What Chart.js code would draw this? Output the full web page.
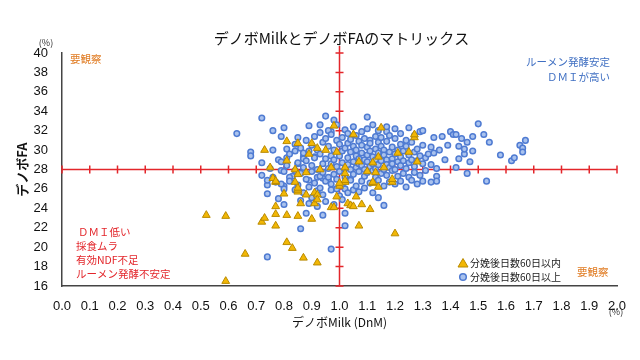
<!DOCTYPE html>
<html>
<head>
<meta charset="utf-8">
<script src="https://cdn.jsdelivr.net/npm/chart.js@4/dist/chart.umd.min.js"></script>
<style>
  html, body { margin: 0; padding: 0; background: #fff; }
  #wrap { width: 640px; height: 360px; }
</style>
</head>
<body>
<div id="wrap"><canvas id="myChart" width="640" height="360"></canvas></div>
<script>
// series names (legend)
var seriesNames = ["分娩後日数60日以内", "分娩後日数60日以上"];
var chartTitle = "デノボMilkとデノボFAのマトリックス";

// x axis: デノボMilk (%), y axis: デノボFA (%)
var milkTicks = [0, 2, 0.1];   // min, max, step
var faTicks = [16, 40, 2];
var centerMilk = 1.0;
var centerFA = 28;

// 分娩後日数60日以内 (triangles) [DnM, FA]
var earlyPoints = [
  [0.52,23.3],[0.59,23.2],[0.66,19.3],[0.59,16.5],[0.72,22.6],[0.73,23.0],[0.77,24.2],[0.77,23.4],
  [0.77,22.2],[0.81,23.3],[0.81,20.5],[0.83,19.9],[0.85,23.2],[0.86,24.5],[0.87,18.9],[0.90,22.9],
  [0.92,18.4],[0.80,25.5],[0.85,25.7],[0.85,25.9],[0.88,25.4],[0.91,25.6],[0.92,25.4],[0.91,24.5],
  [0.92,24.9],[0.77,26.7],[0.84,26.7],[0.97,24.1],[0.98,24.1],[0.99,25.2],[1.00,26.3],[1.02,26.7],
  [1.03,24.5],[1.04,24.3],[1.05,24.2],[1.06,25.2],[1.08,24.4],[1.11,23.9],[1.07,22.2],[1.12,26.6],
  [1.14,26.2],[1.19,26.7],[1.20,21.4],[0.73,30.0],[0.81,30.9],[0.85,30.7],[0.90,30.7],[0.98,32.5],
  [0.89,29.6],[0.92,30.2],[0.95,30.0],[0.99,29.8],[0.81,28.9],[0.75,28.2],[0.84,28.0],[0.85,27.5],
  [0.88,27.7],[0.93,28.0],[0.97,28.2],[1.02,28.2],[1.02,27.6],[0.76,27.1],[0.77,26.8],[0.85,26.1],
  [1.00,26.6],[1.05,31.6],[1.15,32.3],[1.27,31.3],[1.27,31.6],[1.21,29.7],[1.25,29.8],[1.28,28.8],
  [1.07,28.8],[1.14,29.3],[1.12,28.7],[1.10,27.8],[1.13,27.7],[1.16,28.2],[1.19,27.0],[1.12,26.7],
  [1.02,26.9]
];

// 分娩後日数60日以上 (circles) [DnM, FA]
var latePoints = [
  [0.63,31.7],[0.68,29.8],[0.68,29.4],[0.72,33.3],[0.76,32.0],[0.80,32.3],[0.85,31.3],[0.89,32.5],
  [0.93,32.6],[0.95,33.5],[0.98,33.1],[0.97,31.9],[0.74,19.0],[0.86,21.9],[0.94,23.3],[0.88,23.5],
  [0.97,19.8],[1.02,22.2],[1.02,23.5],[1.14,25.1],[1.16,24.3],[1.10,33.4],[1.17,31.9],[0.84,29.9],
  [0.87,29.3],[0.87,29.1],[0.91,29.3],[0.85,28.6],[0.81,29.2],[0.79,27.9],[0.83,27.3],[0.74,26.4],
  [0.80,26.3],[0.89,26.9],[0.92,27.2],[0.94,27.1],[0.96,26.9],[0.80,26.0],[0.82,27.2],[0.77,26.7],
  [0.72,27.4],[0.72,28.7],[0.74,26.9],[0.74,25.5],[0.75,28.1],[0.76,30.0],[0.76,27.2],[0.78,29.0],
  [0.78,25.0],[0.79,26.5],[0.79,28.8],[0.79,31.4],[0.80,27.8],[0.80,24.4],
  [0.81,28.4],[0.81,30.1],[0.82,26.8],[0.82,29.6],[0.84,27.9],[0.84,30.6],[0.84,25.9],[0.85,28.7],
  [0.85,26.4],[0.86,27.6],[0.86,30.2],[0.86,24.8],[0.87,28.2],[0.87,29.7],[0.87,25.6],[0.88,27.0],
  [0.88,31.0],[0.88,28.9],[0.89,26.2],[0.89,29.9],[0.89,24.5],[0.90,27.8],[0.90,30.5],[0.90,28.4],
  [0.90,25.1],[0.91,26.6],[0.91,29.2],[0.91,31.4],[0.92,28.0],[0.92,30.0],[0.92,25.8],[0.92,24.2],
  [0.93,27.3],[0.93,29.6],[0.93,31.8],[0.93,26.1],[0.94,28.6],[0.94,30.8],[0.94,25.4],[0.94,27.7],
  [0.95,26.8],[0.95,29.1],[0.95,31.2],[0.95,24.7],[0.96,28.1],[0.96,30.4],[0.96,27.2],[0.96,32.0],
  [0.97,25.9],[0.97,29.4],[0.97,31.6],[0.97,26.5],[0.97,28.6],[0.98,27.5],[0.98,30.0],[0.98,24.4],
  [0.98,29.0],[0.99,28.3],[0.99,31.0],[0.99,26.0],[0.99,32.6],[0.99,27.0],[1.00,29.4],[1.00,30.6],
  [1.00,25.3],[1.00,27.8],[1.01,28.7],[1.01,31.3],[1.01,26.4],[1.01,29.9],[1.01,24.9],[1.02,27.2],
  [1.02,30.2],[1.02,32.1],[1.02,28.1],[1.02,26.0],[1.03,29.2],[1.03,31.7],[1.03,25.6],[1.03,28.5],
  [1.03,30.7],[1.04,27.0],[1.04,29.8],[1.04,26.9],[1.04,31.1],[1.04,28.0],[1.05,28.8],[1.05,30.4],
  [1.05,25.9],[1.05,32.4],[1.05,27.5],[1.06,29.4],[1.06,31.5],[1.06,26.3],[1.06,28.2],[1.06,30.0],
  [1.07,27.8],[1.07,30.9],[1.07,29.1],[1.07,25.7],[1.07,28.6],[1.08,29.7],[1.08,31.9],[1.08,26.8],
  [1.08,28.4],[1.08,30.5],[1.09,27.3],[1.09,29.0],[1.09,31.2],[1.09,28.0],[1.09,26.1],[1.10,29.5],
  [1.10,30.3],[1.10,27.7],[1.10,32.2],[1.10,28.8],[1.11,26.6],[1.11,29.9],[1.11,31.0],[1.11,28.3],
  [1.11,30.7],[1.12,27.9],[1.12,29.3],[1.12,32.6],[1.12,28.6],[1.12,25.6],[1.13,30.1],[1.13,31.4],
  [1.13,27.2],[1.13,29.0],[1.13,28.1],[1.14,26.9],[1.14,29.7],[1.14,30.8],[1.14,28.5],[1.14,32.0],
  [1.15,27.6],[1.15,29.2],[1.15,31.3],[1.15,28.9],[1.15,30.4],[1.16,26.3],[1.16,28.0],[1.16,30.0],
  [1.16,29.5],[1.17,27.4],[1.17,29.0],[1.17,30.9],[1.17,28.5],[1.17,32.4],[1.18,26.7],[1.18,29.8],
  [1.18,31.5],[1.18,28.2],[1.19,27.9],[1.19,30.3],[1.19,29.1],[1.19,28.6],[1.20,26.5],[1.20,29.6],
  [1.20,31.2],[1.20,28.0],[1.20,32.2],[1.21,27.3],[1.21,30.0],[1.21,28.8],[1.22,26.8],[1.22,29.3],
  [1.22,31.7],[1.22,28.4],[1.22,30.6],[1.23,27.6],[1.23,29.9],[1.23,28.9],[1.24,26.2],[1.24,30.4],
  [1.24,31.0],[1.24,28.1],[1.25,27.2],[1.25,29.5],[1.25,32.3],[1.25,28.7],[1.26,30.8],[1.26,26.9],
  [1.26,29.0],[1.27,28.3],[1.27,31.5],[1.27,27.7],[1.27,29.8],[1.28,26.5],[1.28,30.1],[1.28,28.9],
  [1.29,29.4],[1.29,31.9],[1.29,27.4],[1.30,28.6],[1.30,30.5],[1.30,26.8],[1.30,32.0],[1.31,29.2],
  [1.31,27.9],[1.33,30.3],[1.33,28.5],[1.33,26.7],[1.34,29.7],[1.34,31.3],[1.35,28.1],[1.35,27.3],
  [1.32,29.6],[1.35,26.8],[1.36,30.0],[1.37,31.4],[1.38,29.0],[1.39,30.5],[1.40,31.9],[1.41,31.6],
  [1.42,28.2],[1.42,31.6],[1.43,29.1],[1.43,30.4],[1.44,31.2],[1.45,29.6],[1.45,30.1],[1.46,27.6],
  [1.46,30.8],[1.47,28.8],[1.48,31.4],[1.48,29.9],[1.50,32.7],[1.52,31.6],[1.53,26.8],[1.54,30.8],
  [1.58,29.5],[1.62,28.9],[1.63,29.2],[1.65,30.5],[1.66,30.2],[1.66,29.8],[1.67,31.0]
];

var JP = "'Noto Sans CJK JP', sans-serif";
var triFill = "#F2B705", triLine = "#B98A00";
var dotFill = "#A9C2EE", dotLine = "#4F7BD2";
var matrixRed = "#E3262B";

function toXY(arr) { return arr.map(function (p) { return {x: p[0], y: p[1]}; }); }

// red cross lines, title, notes and legend
var matrixPlugin = {
  id: "matrixPlugin",
  beforeDatasetsDraw: function (chart) {
    var ctx = chart.ctx, a = chart.chartArea, x = chart.scales.x, y = chart.scales.y;
    var cx = x.getPixelForValue(centerMilk), cy = y.getPixelForValue(centerFA);
    ctx.save();
    ctx.strokeStyle = matrixRed;
    ctx.lineWidth = 1.5;
    ctx.beginPath();
    ctx.moveTo(a.left, cy); ctx.lineTo(a.right, cy);
    ctx.moveTo(cx, a.top - 7); ctx.lineTo(cx, a.bottom);
    x.ticks.forEach(function (t) {
      var px = x.getPixelForValue(t.value);
      ctx.moveTo(px, cy - 4); ctx.lineTo(px, cy + 4);
    });
    y.ticks.forEach(function (t) {
      var py = y.getPixelForValue(t.value);
      ctx.moveTo(cx - 4, py); ctx.lineTo(cx + 4, py);
    });
    ctx.stroke();
    ctx.restore();
  },
  afterDraw: function (chart) {
    var ctx = chart.ctx, a = chart.chartArea;
    ctx.save();
    ctx.textBaseline = "middle";

    // title, centred over the plot
    ctx.font = "15px " + JP;
    ctx.fillStyle = "#111";
    ctx.textAlign = "center";
    ctx.fillText(chartTitle, (a.left + a.right) / 2 + 2, 38);

    ctx.font = "10.5px " + JP;
    // top left / bottom right
    ctx.fillStyle = "#E07B22";
    ctx.textAlign = "left";
    ctx.fillText("要観察", a.left + 8, a.top + 6);
    ctx.fillText("要観察", a.right - 40, a.bottom - 14);

    // top right
    ctx.fillStyle = "#3F6FC2";
    ctx.textAlign = "right";
    ctx.fillText("ルーメン発酵安定", a.right - 7, a.top + 9);
    ctx.fillText("ＤＭＩが高い", a.right - 7, a.top + 24);

    // bottom left
    ctx.fillStyle = matrixRed;
    ctx.textAlign = "left";
    ctx.fillText("ＤＭＩ低い", a.left + 16, a.bottom - 54);
    ctx.fillText("採食ムラ", a.left + 14, a.bottom - 40);
    ctx.fillText("有効NDF不足", a.left + 14, a.bottom - 26);
    ctx.fillText("ルーメン発酵不安定", a.left + 14, a.bottom - 12);

    // legend
    ctx.font = "10px " + JP;
    var lx = a.right - 154, ly = a.bottom - 23;
    ctx.fillStyle = triFill; ctx.strokeStyle = triLine; ctx.lineWidth = 1;
    ctx.beginPath();
    ctx.moveTo(lx, ly - 4.5); ctx.lineTo(lx + 5, ly + 4); ctx.lineTo(lx - 5, ly + 4); ctx.closePath();
    ctx.fill(); ctx.stroke();
    ctx.fillStyle = dotFill; ctx.strokeStyle = dotLine; ctx.lineWidth = 1.5;
    ctx.beginPath(); ctx.arc(lx, ly + 14, 3.3, 0, Math.PI * 2); ctx.fill(); ctx.stroke();
    ctx.fillStyle = "#222";
    ctx.fillText(seriesNames[0], lx + 7, ly);
    ctx.fillText(seriesNames[1], lx + 7, ly + 14);

    // units
    ctx.font = "9px " + JP;
    ctx.fillStyle = "#333";
    ctx.textAlign = "center";
    ctx.fillText("(%)", 46, 43);
    ctx.fillText("(%)", 616, 312);
    ctx.restore();
  }
};

new Chart("myChart", {
  type: "scatter",
  data: {
    datasets: [{
      label: seriesNames[0],
      data: toXY(earlyPoints),
      pointStyle: "triangle",
      pointRadius: 4.5,
      backgroundColor: triFill,
      borderColor: triLine,
      borderWidth: 1
    }, {
      label: seriesNames[1],
      data: toXY(latePoints),
      pointStyle: "circle",
      pointRadius: 2.8,
      backgroundColor: dotFill,
      borderColor: dotLine,
      borderWidth: 1.5
    }]
  },
  options: {
    responsive: false,
    animation: false,
    layout: {padding: {top: 53, right: 23, bottom: 0, left: 0}},
    plugins: {
      legend: {display: false},
      tooltip: {enabled: false},
      title: {display: false}
    },
    scales: {
      x: {
        type: "linear",
        min: milkTicks[0], max: milkTicks[1],
        grid: {display: false},
        border: {display: true, color: "#444", width: 1.5},
        ticks: {
          stepSize: milkTicks[2], autoSkip: false, maxRotation: 0, padding: 5,
          color: "#111", font: {family: "'Liberation Sans', Arial", size: 13},
          callback: function (v) { return Number(v).toFixed(1); }
        },
        title: {
          display: true, text: "デノボMilk (DnM)", color: "#111",
          font: {family: JP, size: 12}, padding: {top: 0, bottom: 30}
        },
        afterFit: function (s) { s.height = 74; }
      },
      y: {
        type: "linear",
        min: faTicks[0], max: faTicks[1],
        grid: {display: false},
        border: {display: true, color: "#444", width: 1.5},
        ticks: {
          stepSize: faTicks[2], padding: 6,
          color: "#111", font: {family: "'Liberation Sans', Arial", size: 13}
        },
        title: {
          display: true, text: "デノボFA", color: "#111",
          font: {family: JP, size: 13, weight: "bold"}, padding: {top: 14, bottom: 0}
        },
        afterFit: function (s) { s.width = 62; }
      }
    }
  },
  plugins: [matrixPlugin]
});
</script>
</body>
</html>
